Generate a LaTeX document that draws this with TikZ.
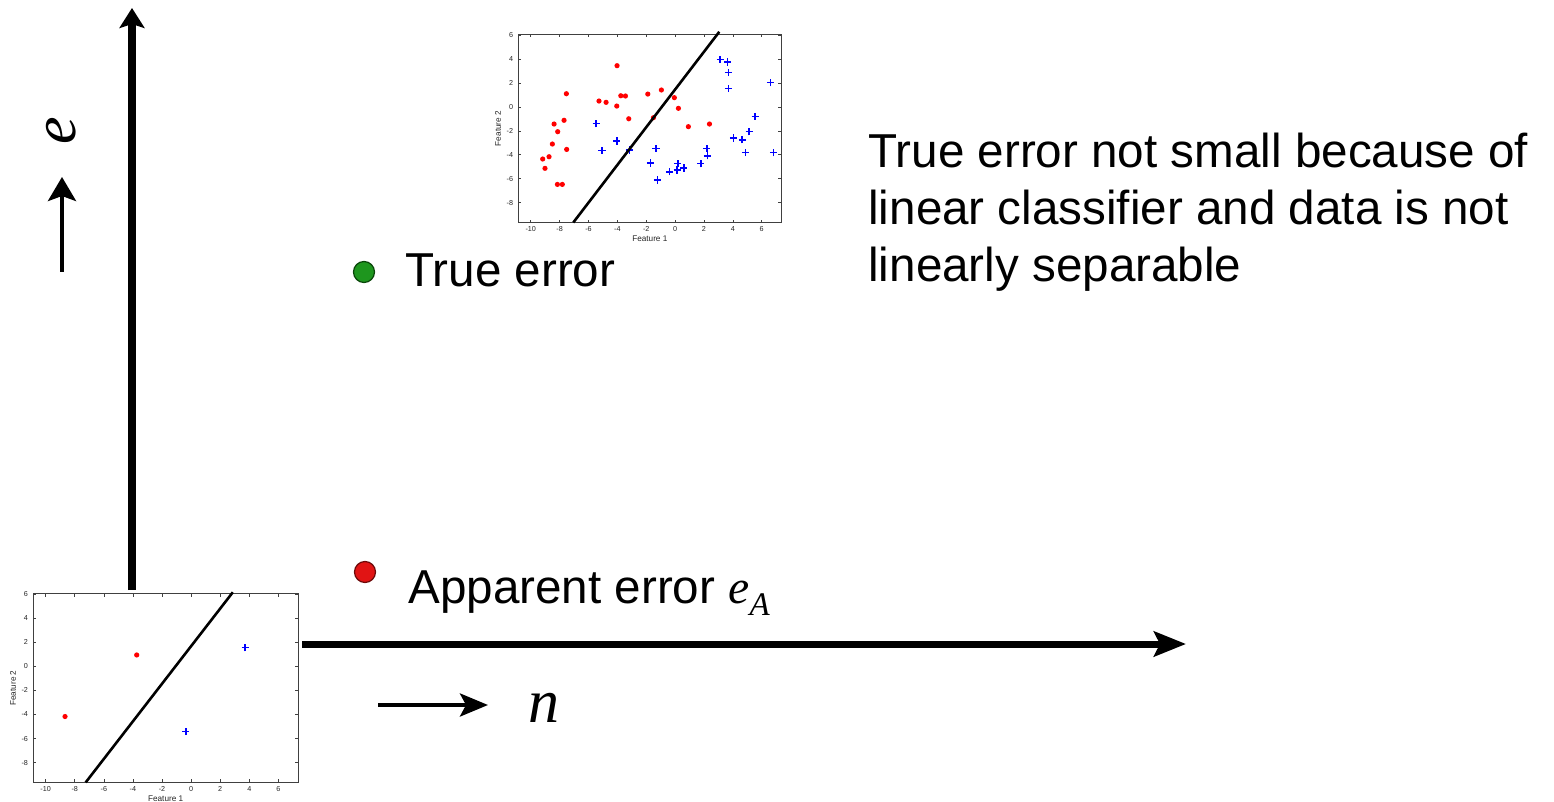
\documentclass[tikz,border=0pt]{standalone}
\usepackage{fontspec}
\setmainfont{Liberation Sans}
\newfontfamily\tnr{Liberation Serif}
\usetikzlibrary{arrows.meta}
\definecolor{dotgreen}{RGB}{30,150,30}
\definecolor{dotgreenline}{RGB}{10,70,10}
\definecolor{dotred}{RGB}{225,20,20}
\definecolor{dotredline}{RGB}{110,10,10}
\definecolor{ptblue}{RGB}{0,0,255}
\definecolor{ptred}{RGB}{255,0,0}
\tikzset{
  pframe/.style={draw=black!75,line width=0.35pt},
  ticklab/.style={inner sep=0pt,font=\fontsize{3.6}{4}\selectfont,text=black!85},
  featlab/.style={inner sep=0pt,font=\fontsize{4.1}{5}\selectfont,text=black!85},
  sepline/.style={line width=1.3pt,black},
  redpt/.style={fill=ptred},
  bluept/.style={draw=ptblue,line width=0.8pt},
  lab/.style={inner sep=0pt,font=\fontsize{23.8}{28.5}\selectfont},
  bigsym/.style={inner sep=0pt,font=\tnr\itshape\fontsize{31}{31}\selectfont},
  legdot/.style={circle,inner sep=0pt,minimum size=10.5pt,line width=0.6pt},
  vaxis/.style={line width=4pt,-{Stealth[length=10pt,width=12.5pt,inset=2pt]}},
  haxis/.style={line width=3.5pt,-{Stealth[length=16pt,width=12.5pt,inset=3pt]}},
  uparrow/.style={line width=2pt,-{Stealth[length=12pt,width=14pt,inset=2.5pt]}},
  rarrow/.style={line width=2pt,-{Stealth[length=14pt,width=11.5pt,inset=3pt]}},
}
\newcommand\mplframe{%
  \draw[pframe] (-10.85,-9.65) rectangle (7.35,6.05);
  \foreach \t in {-10,-8,...,6}{
    \draw[pframe] (\t,-9.65) -- ++(0,1.5pt);
    \draw[pframe] (\t,6.05) -- ++(0,-1.5pt);
    \node[ticklab,anchor=north,yshift=-2pt] at (\t,-9.65) {\t};
  }
  \foreach \t in {-8,-6,...,6}{
    \draw[pframe] (-10.85,\t) -- ++(1.5pt,0);
    \draw[pframe] (7.35,\t) -- ++(-1.5pt,0);
    \node[ticklab,anchor=east,xshift=-2.5pt] at (-10.85,\t) {\t};
  }
  \node[featlab,anchor=north,yshift=-6.5pt] at (-1.75,-9.65) {Feature 1};
  \node[featlab,xshift=-8.5pt,rotate=90,anchor=south] at (-10.85,-1.8) {Feature 2};
}
\newcommand\redpts[1]{\foreach \ptx/\pty in {#1}{\fill[redpt] (\ptx,\pty) circle[radius=1.3pt];}}
\newcommand\bluepts[1]{\foreach \ptx/\pty in {#1}{%
  \draw[bluept] ([xshift=-1.8pt]\ptx,\pty) -- ([xshift=1.8pt]\ptx,\pty);
  \draw[bluept] ([yshift=-1.8pt]\ptx,\pty) -- ([yshift=1.8pt]\ptx,\pty);}}
\begin{document}
\begin{tikzpicture}[x=0.5pt,y=-0.5pt]
\useasboundingbox (0,0) rectangle (1554,802);
\fill[white] (0,0) rectangle (1554,802);

% top plot
\begin{scope}[shift={(675.1,106.9)},x=7.22pt,y=5.99pt]
  \mplframe
  \redpts{-9.17/-4.35,-9.01/-5.13,-8.73/-4.16,-8.50/-3.10,-8.38/-1.43,-8.13/-2.07,-8.15/-6.47,-7.81/-6.47,-7.69/-1.12,-7.53/1.10,-7.51/-3.55,-5.27/0.49,-4.78/0.38,-4.02/3.44,-4.04/0.07,-3.76/0.93,-3.44/0.91,-3.21/-0.99,-1.89/1.07,-1.50/-0.90,-0.95/1.41,-0.05/0.77,0.23/-0.12,0.92/-1.65,2.38/-1.43}
  \bluepts{-5.47/-1.40,-5.06/-3.63,-4.04/-2.85,-3.16/-3.60,-1.71/-4.69,-1.32/-3.46,-1.22/-6.11,-0.39/-5.41,0.14/-5.27,0.18/-4.74,0.60/-5.10,1.78/-4.74,2.19/-3.46,2.24/-4.08,3.12/3.97,3.63/3.75,3.69/2.86,3.69/1.55,4.04/-2.60,4.64/-2.74,4.87/-3.80,5.13/-2.07,5.54/-0.79,6.61/2.02,6.81/-3.82}
  \coordinate (topA) at (-7.05,-9.65);
  \coordinate (topB) at (3.06,6.27);
  \draw[sepline] (topA) -- (topB);
\end{scope}

% bottom plot
\begin{scope}[shift={(191.1,666.4)},x=7.27pt,y=6.01pt]
  \mplframe
  \redpts{-8.67/-4.17,-3.74/0.95}
  \bluepts{3.72/1.56,-0.37/-5.42}
  \coordinate (botA) at (-7.25,-9.65);
  \coordinate (botB) at (2.87,6.17);
  \draw[sepline] (botA) -- (botB);
\end{scope}

% axes
\coordinate (vS) at (132,590);
\coordinate (vE) at (132,8);
\draw[vaxis] (vS) -- (vE);
\coordinate (hS) at (302,644);
\coordinate (hE) at (1186,644);
\draw[haxis] (hS) -- (hE);

% small arrows and symbols
\coordinate (eaS) at (62,272);
\coordinate (eaE) at (62,177);
\draw[uparrow] (eaS) -- (eaE);
\node[bigsym,rotate=90] (esym) at (61,131) {e};
\coordinate (naS) at (378,705);
\coordinate (naE) at (488,705);
\draw[rarrow] (naS) -- (naE);
\node[bigsym,anchor=base west] (nsym) at (528,722) {n};

% legend
\node[legdot,fill=dotgreen,draw=dotgreenline] (truedot) at (364,272) {};
\node[lab,anchor=base west] (truelab) at (405,287) {True error};
\node[legdot,fill=dotred,draw=dotredline] (appdot) at (365,572) {};
\node[lab,anchor=base west] (applab) at (408,603) {Apparent error {\tnr\itshape e\raisebox{-6pt}{\fontsize{16.5}{16.5}\selectfont A}}};

% note
\node[lab,anchor=base west] (note1) at (868,168) {True error not small because of};
\node[lab,anchor=base west] (note2) at (868,225) {linear classifier and data is not};
\node[lab,anchor=base west] (note3) at (868,282) {linearly separable};
\end{tikzpicture}
\end{document}
